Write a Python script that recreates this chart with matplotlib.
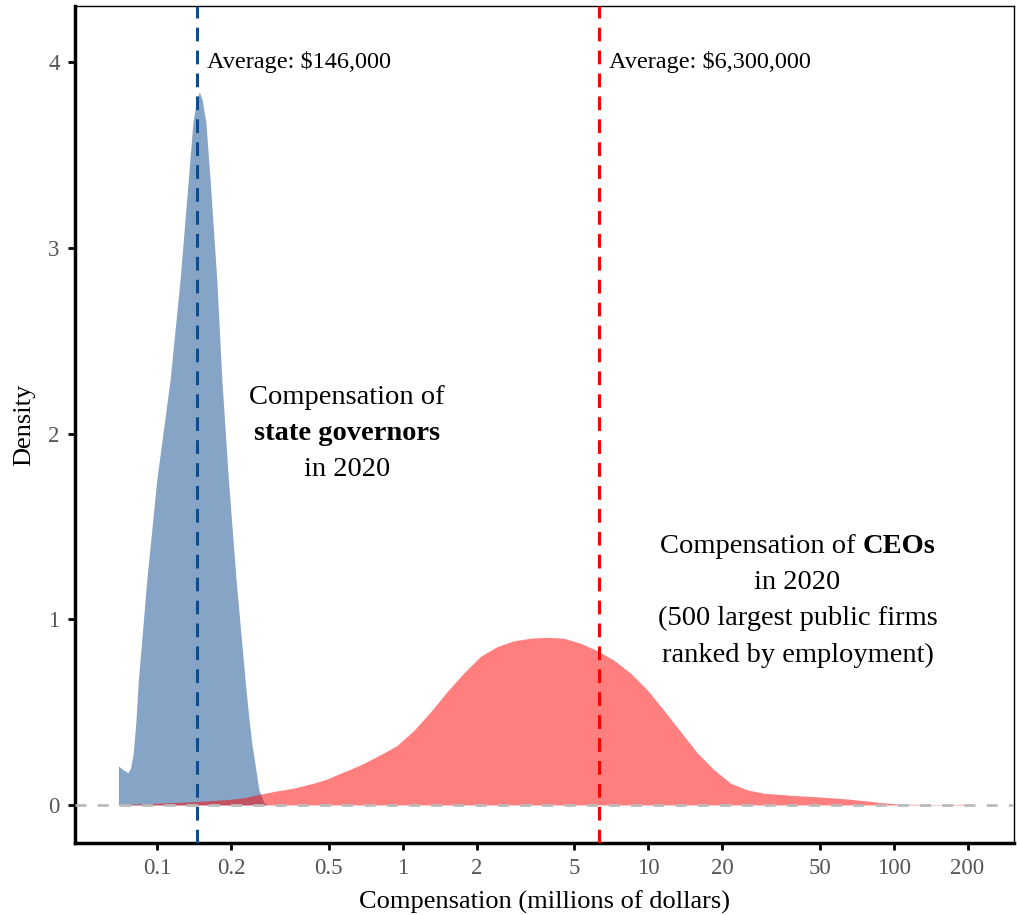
import matplotlib
matplotlib.use("Agg")
import matplotlib.pyplot as plt
from matplotlib.ticker import NullLocator
from matplotlib.offsetbox import TextArea, HPacker, VPacker, AnnotationBbox

plt.rcParams["font.family"] = ["Liberation Serif", "DejaVu Serif"]

# Kernel density of compensation (millions of dollars, log scale)
gov_comp = [0.0696, 0.0727, 0.0762, 0.0780, 0.0800, 0.0820, 0.0839, 0.0908,
            0.0997, 0.1130, 0.1241, 0.1341, 0.1400, 0.1450, 0.1487, 0.1525,
            0.1580, 0.1644, 0.1751, 0.1836, 0.1953, 0.2099, 0.2284, 0.2360,
            0.2432, 0.2512, 0.2600, 0.2720, 0.2808]
gov_density = [0.21, 0.19, 0.174, 0.20, 0.28, 0.45, 0.67, 1.21,
               1.75, 2.29, 2.83, 3.37, 3.68, 3.80, 3.84, 3.80,
               3.68, 3.37, 2.83, 2.29, 1.75, 1.21, 0.67, 0.48,
               0.33, 0.21, 0.08, 0.015, 0.0]

ceo_comp = [0.0696, 0.0853, 0.1028, 0.1429, 0.1984, 0.2284, 0.2630, 0.2979,
            0.3583, 0.4337, 0.4932, 0.5572, 0.6724, 0.8111, 0.9488, 1.109,
            1.297, 1.517, 1.773, 2.074, 2.427, 2.835, 3.317, 3.879, 4.532,
            5.301, 6.201, 7.247, 8.477, 9.916, 11.59, 13.55, 15.86, 18.53,
            21.67, 25.35, 29.63, 38.07, 47.37, 64.81, 76.96, 88.60, 106.9,
            155.6, 212.2]
ceo_density = [0.002, 0.006, 0.010, 0.018, 0.030, 0.040, 0.058, 0.072,
               0.090, 0.117, 0.140, 0.170, 0.215, 0.27, 0.32, 0.40,
               0.50, 0.61, 0.71, 0.80, 0.853, 0.884, 0.898, 0.903, 0.898,
               0.871, 0.831, 0.78, 0.71, 0.62, 0.51, 0.395, 0.28, 0.19,
               0.117, 0.081, 0.063, 0.052, 0.045, 0.032, 0.022, 0.013, 0.004,
               0.002, 0.004]

gov_mean = 0.146
ceo_mean = 6.3

xticks = [0.1, 0.2, 0.5, 1, 2, 5, 10, 20, 50, 100, 200]
xtick_labels = ["0.1", "0.2", "0.5", "1", "2", "5", "10", "20", "50", "100", "200"]
yticks = [0, 1, 2, 3, 4]

fig = plt.figure(figsize=(10.17, 9.15), dpi=100)
ax = fig.add_axes([0.0737, 0.0787, 0.9233, 0.9150])

ax.fill_between(gov_comp, gov_density, 0, color="#0f4c8f", alpha=0.5, lw=0)
ax.fill_between(ceo_comp, ceo_density, 0, color="#ff0000", alpha=0.5, lw=0)

ax.axhline(0, color="#bbbbbb", lw=2, ls=(0, (4, 4)), zorder=3)
ax.axvline(gov_mean, color="#0f4c8f", lw=2.2, ls=(0, (4.5, 3)), zorder=4)
ax.axvline(ceo_mean, color="#ff0000", lw=2.2, ls=(0, (4.5, 3)), zorder=4)

ax.annotate("Average: $146,000", (gov_mean, 4.0), xytext=(7, 0),
            textcoords="offset points", fontsize=17.5, va="center", ha="left")
ax.annotate("Average: $6,300,000", (ceo_mean, 4.0), xytext=(7, 0),
            textcoords="offset points", fontsize=17.5, va="center", ha="left")


def multiline_label(lines, xy, size):
    rows = []
    for parts in lines:
        row = [TextArea(txt, textprops=dict(fontsize=size, fontweight=w,
                                            family=["Liberation Serif"]))
               for txt, w in parts]
        rows.append(HPacker(children=row, pad=0, sep=0, align="baseline"))
    box = VPacker(children=rows, pad=0, sep=8, align="center")
    ab = AnnotationBbox(box, xy, xycoords="data", frameon=False,
                        box_alignment=(0.5, 0.5))
    ax.add_artist(ab)


multiline_label([[("Compensation of", "normal")],
                 [("state governors", "bold")],
                 [("in 2020", "normal")]], (0.595, 2.0), 20.5)
multiline_label([[("Compensation of ", "normal"), ("CEOs", "bold")],
                 [("in 2020", "normal")],
                 [("(500 largest public firms", "normal")],
                 [("ranked by employment)", "normal")]], (40.6, 1.1), 20.5)

ax.set_xscale("log")
ax.set_xlim(0.0463, 309)
ax.set_ylim(-0.205, 4.305)
ax.set_xticks(xticks)
ax.set_xticklabels(xtick_labels)
ax.xaxis.set_minor_locator(NullLocator())
ax.set_yticks(yticks)

ax.tick_params(axis="both", which="major", length=5, width=2, color="black",
               labelsize=16.5, labelcolor="#555555", pad=6)
for side in ("left", "bottom"):
    ax.spines[side].set_linewidth(2.5)
for side in ("top", "right"):
    ax.spines[side].set_linewidth(1.0)

ax.set_xlabel("Compensation (millions of dollars)", fontsize=19, labelpad=8)
ax.set_ylabel("Density", fontsize=19, labelpad=9)

fig.savefig("out.png", dpi=100)
